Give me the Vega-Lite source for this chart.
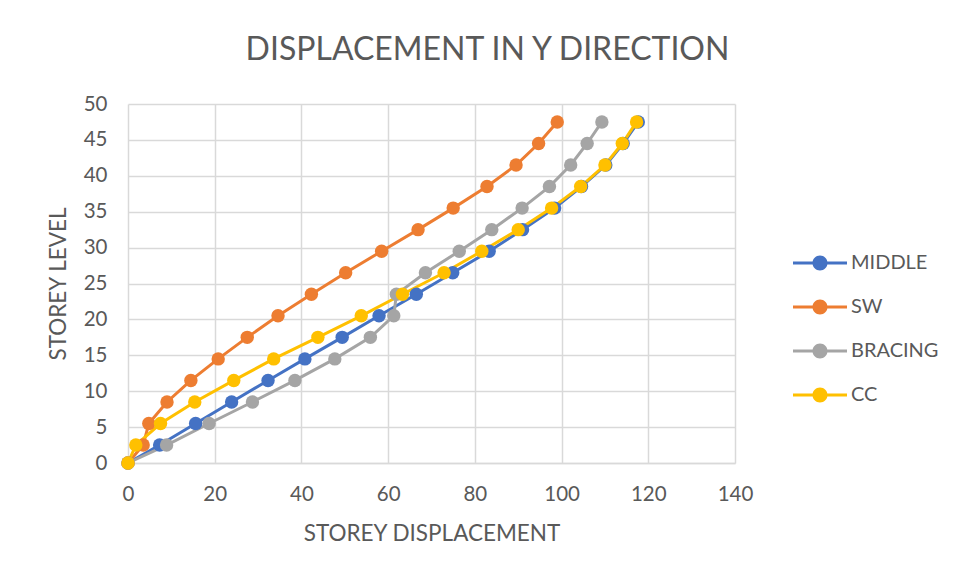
{
  "$schema": "https://vega.github.io/schema/vega-lite/v6.json",
  "width": 607,
  "height": 359,
  "autosize": {"type": "none"},
  "padding": {"left": 128, "top": 104, "right": 221, "bottom": 115},
  "background": "white",
  "title": {
    "text": "DISPLACEMENT IN Y DIRECTION",
    "anchor": "middle",
    "frame": "group",
    "dx": 56,
    "offset": 27,
    "font": "Lato",
    "fontSize": 32,
    "fontWeight": "normal",
    "color": "#595959"
  },
  "datasets": {
    "rows": [
      {"series": "MIDDLE", "level": 0, "disp": 0},
      {"series": "MIDDLE", "level": 2.5, "disp": 7.3},
      {"series": "MIDDLE", "level": 5.5, "disp": 15.6},
      {"series": "MIDDLE", "level": 8.5, "disp": 23.9},
      {"series": "MIDDLE", "level": 11.5, "disp": 32.3},
      {"series": "MIDDLE", "level": 14.5, "disp": 40.8},
      {"series": "MIDDLE", "level": 17.5, "disp": 49.4},
      {"series": "MIDDLE", "level": 20.5, "disp": 57.9},
      {"series": "MIDDLE", "level": 23.5, "disp": 66.5},
      {"series": "MIDDLE", "level": 26.5, "disp": 74.9},
      {"series": "MIDDLE", "level": 29.5, "disp": 83.3},
      {"series": "MIDDLE", "level": 32.5, "disp": 91.0},
      {"series": "MIDDLE", "level": 35.5, "disp": 98.4},
      {"series": "MIDDLE", "level": 38.5, "disp": 104.6},
      {"series": "MIDDLE", "level": 41.5, "disp": 110.2},
      {"series": "MIDDLE", "level": 44.5, "disp": 114.2},
      {"series": "MIDDLE", "level": 47.5, "disp": 117.7},
      {"series": "SW", "level": 0, "disp": 0},
      {"series": "SW", "level": 2.5, "disp": 3.5},
      {"series": "SW", "level": 5.5, "disp": 4.8},
      {"series": "SW", "level": 8.5, "disp": 9.0},
      {"series": "SW", "level": 11.5, "disp": 14.5},
      {"series": "SW", "level": 14.5, "disp": 20.8},
      {"series": "SW", "level": 17.5, "disp": 27.5},
      {"series": "SW", "level": 20.5, "disp": 34.6},
      {"series": "SW", "level": 23.5, "disp": 42.3},
      {"series": "SW", "level": 26.5, "disp": 50.2},
      {"series": "SW", "level": 29.5, "disp": 58.5},
      {"series": "SW", "level": 32.5, "disp": 66.9},
      {"series": "SW", "level": 35.5, "disp": 75.0},
      {"series": "SW", "level": 38.5, "disp": 82.8},
      {"series": "SW", "level": 41.5, "disp": 89.5},
      {"series": "SW", "level": 44.5, "disp": 94.7},
      {"series": "SW", "level": 47.5, "disp": 99.0},
      {"series": "BRACING", "level": 0, "disp": 0},
      {"series": "BRACING", "level": 2.5, "disp": 8.9},
      {"series": "BRACING", "level": 5.5, "disp": 18.7},
      {"series": "BRACING", "level": 8.5, "disp": 28.7},
      {"series": "BRACING", "level": 11.5, "disp": 38.5},
      {"series": "BRACING", "level": 14.5, "disp": 47.7},
      {"series": "BRACING", "level": 17.5, "disp": 55.9},
      {"series": "BRACING", "level": 20.5, "disp": 61.3},
      {"series": "BRACING", "level": 23.5, "disp": 61.9},
      {"series": "BRACING", "level": 26.5, "disp": 68.6},
      {"series": "BRACING", "level": 29.5, "disp": 76.4},
      {"series": "BRACING", "level": 32.5, "disp": 83.9},
      {"series": "BRACING", "level": 35.5, "disp": 90.9},
      {"series": "BRACING", "level": 38.5, "disp": 97.2},
      {"series": "BRACING", "level": 41.5, "disp": 102.1},
      {"series": "BRACING", "level": 44.5, "disp": 105.9},
      {"series": "BRACING", "level": 47.5, "disp": 109.3},
      {"series": "CC", "level": 0, "disp": 0},
      {"series": "CC", "level": 2.5, "disp": 1.8},
      {"series": "CC", "level": 5.5, "disp": 7.5},
      {"series": "CC", "level": 8.5, "disp": 15.4},
      {"series": "CC", "level": 11.5, "disp": 24.4},
      {"series": "CC", "level": 14.5, "disp": 33.6},
      {"series": "CC", "level": 17.5, "disp": 43.8},
      {"series": "CC", "level": 20.5, "disp": 53.8},
      {"series": "CC", "level": 23.5, "disp": 63.3},
      {"series": "CC", "level": 26.5, "disp": 72.9},
      {"series": "CC", "level": 29.5, "disp": 81.6},
      {"series": "CC", "level": 32.5, "disp": 90.0},
      {"series": "CC", "level": 35.5, "disp": 97.7},
      {"series": "CC", "level": 38.5, "disp": 104.4},
      {"series": "CC", "level": 41.5, "disp": 110.0},
      {"series": "CC", "level": 44.5, "disp": 114.0},
      {"series": "CC", "level": 47.5, "disp": 117.3}
    ]
  },
  "data": {"name": "rows"},
  "encoding": {
    "x": {
      "field": "disp",
      "type": "quantitative",
      "scale": {"domain": [0, 140], "nice": false, "zero": true},
      "axis": {
        "title": "STOREY DISPLACEMENT",
        "values": [0, 20, 40, 60, 80, 100, 120, 140],
        "grid": true,
        "gridColor": "#D9D9D9",
        "gridWidth": 1.5,
        "domainColor": "#D9D9D9",
        "domainWidth": 1.5,
        "ticks": false,
        "labelFlush": false,
        "labelPadding": 21,
        "labelFont": "Lato",
        "labelFontSize": 20.5,
        "labelColor": "#595959",
        "titleFont": "Lato",
        "titleFontSize": 22.5,
        "titleFontWeight": "normal",
        "titleColor": "#595959",
        "titlePadding": 18
      }
    },
    "y": {
      "field": "level",
      "type": "quantitative",
      "scale": {"domain": [0, 50], "nice": false},
      "axis": {
        "title": "STOREY LEVEL",
        "values": [0, 5, 10, 15, 20, 25, 30, 35, 40, 45, 50],
        "grid": true,
        "gridColor": "#D9D9D9",
        "gridWidth": 1.5,
        "domain": false,
        "ticks": false,
        "labelFlush": false,
        "labelPadding": 21,
        "labelFont": "Lato",
        "labelFontSize": 20.5,
        "labelColor": "#595959",
        "titleFont": "Lato",
        "titleFontSize": 22.5,
        "titleFontWeight": "normal",
        "titleColor": "#595959",
        "titlePadding": 13
      }
    },
    "color": {
      "field": "series",
      "type": "nominal",
      "scale": {
        "domain": ["MIDDLE", "SW", "BRACING", "CC"],
        "range": ["#4472C4", "#ED7D31", "#A5A5A5", "#FFC000"]
      },
      "legend": {
        "title": null,
        "orient": "none",
        "legendX": 682,
        "legendY": 149,
        "symbolType": "M-3.6,-0.2H3.6V0.2H-3.6Z M-1,0A1,1 0 1,1 1,0A1,1 0 1,1 -1,0Z",
        "symbolSize": 225,
        "symbolStrokeWidth": 0,
        "symbolOpacity": 1,
        "labelFont": "Lato",
        "labelFontSize": 20,
        "labelColor": "#595959",
        "labelOffset": 21,
        "rowPadding": 24
      }
    },
    "order": {"field": "level", "type": "quantitative"}
  },
  "layer": [
    {"mark": {"type": "line", "strokeWidth": 3}},
    {"mark": {"type": "circle", "size": 180, "opacity": 1}}
  ],
  "config": {"view": {"stroke": null}}
}
